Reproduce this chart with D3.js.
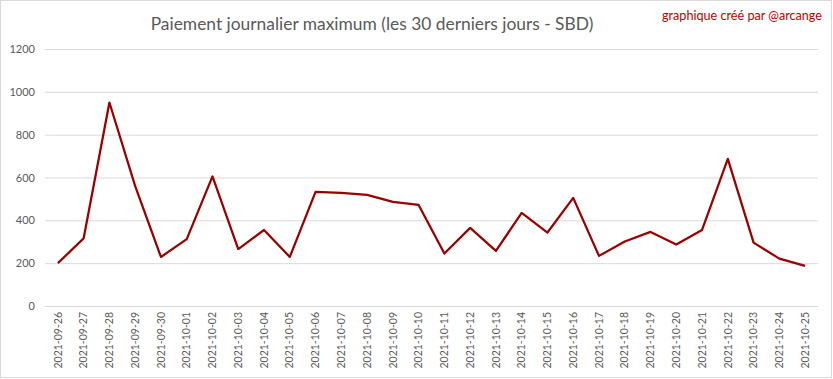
<!DOCTYPE html>
<html><head><meta charset="utf-8">
<script src="https://cdn.jsdelivr.net/npm/d3@7"></script>
<style>body{margin:0;background:#fff}svg{display:block}</style>
</head><body>
<script>
const dates = ["2021-09-26","2021-09-27","2021-09-28","2021-09-29","2021-09-30","2021-10-01","2021-10-02","2021-10-03","2021-10-04","2021-10-05","2021-10-06","2021-10-07","2021-10-08","2021-10-09","2021-10-10","2021-10-11","2021-10-12","2021-10-13","2021-10-14","2021-10-15","2021-10-16","2021-10-17","2021-10-18","2021-10-19","2021-10-20","2021-10-21","2021-10-22","2021-10-23","2021-10-24","2021-10-25"];
const values = [200,316,950,560,229,312,605,266,355,229,533,528,519,486,472,245,365,257,435,343,505,234,301,346,287,355,687,296,221,187];
const yTicks = [0,200,400,600,800,1000,1200];
const title = "Paiement journalier maximum (les 30 derniers jours - SBD)";
const credit = "graphique créé par @arcange";

const W = 833, H = 379;
const m = {left:45, right:15, top:49, bottom:73};
const svg = d3.select("body").append("svg").attr("width", W).attr("height", H);
svg.append("rect").attr("x",0.5).attr("y",0.5).attr("width",W-2).attr("height",H-2)
  .attr("fill","#fff").attr("stroke","#d9d9d9");

const x = d3.scaleBand().domain(dates).range([m.left, W - m.right]);
const y = d3.scaleLinear().domain([0,1200]).range([H - m.bottom, m.top]);
const font = "Lato, 'Open Sans', sans-serif";

// grid
const yAxis = d3.axisLeft(y).tickValues(yTicks).tickFormat(d3.format("d"))
  .tickSize(-(W - m.right - m.left)).tickPadding(10);
const gy = svg.append("g").attr("transform", `translate(${m.left},0)`).call(yAxis);
gy.select(".domain").remove();
gy.selectAll(".tick line").attr("stroke","#d9d9d9").attr("stroke-width",1);
gy.selectAll(".tick text").attr("fill","#595959").style("font-family",font).style("font-size","11px");

const xAxis = d3.axisBottom(x).tickSize(0).tickPadding(6);
const gx = svg.append("g").attr("transform", `translate(0,${H - m.bottom})`).call(xAxis);
gx.select(".domain").remove();
gx.selectAll(".tick text")
  .attr("fill","#595959").style("font-family",font).style("font-size","10.5px")
  .attr("transform","rotate(-90)").attr("text-anchor","end")
  .attr("x",-6).attr("y",0).attr("dy","0.35em");

const line = d3.line().x((d,i)=>x(dates[i]) + x.bandwidth()/2).y(d=>y(d));
svg.append("path").datum(values).attr("d",line).attr("fill","none")
  .attr("stroke","#990000").attr("stroke-width",2.25).attr("stroke-linejoin","round");

const t = svg.append("text").attr("x",372).attr("y",30).attr("text-anchor","middle")
  .attr("fill","#595959").style("font-family",font).style("font-size","18.5px").text(title);
const tw = t.node().getComputedTextLength();
t.style("font-size", (18.5*443/tw).toFixed(2)+"px");

const c = svg.append("text").attr("x",822).attr("y",20).attr("text-anchor","end")
  .attr("fill","#c00000").style("font-family",font).style("font-size","12px").text(credit);
const cw = c.node().getComputedTextLength();
c.style("font-size", (12*160/cw).toFixed(2)+"px");
</script>
</body></html>
